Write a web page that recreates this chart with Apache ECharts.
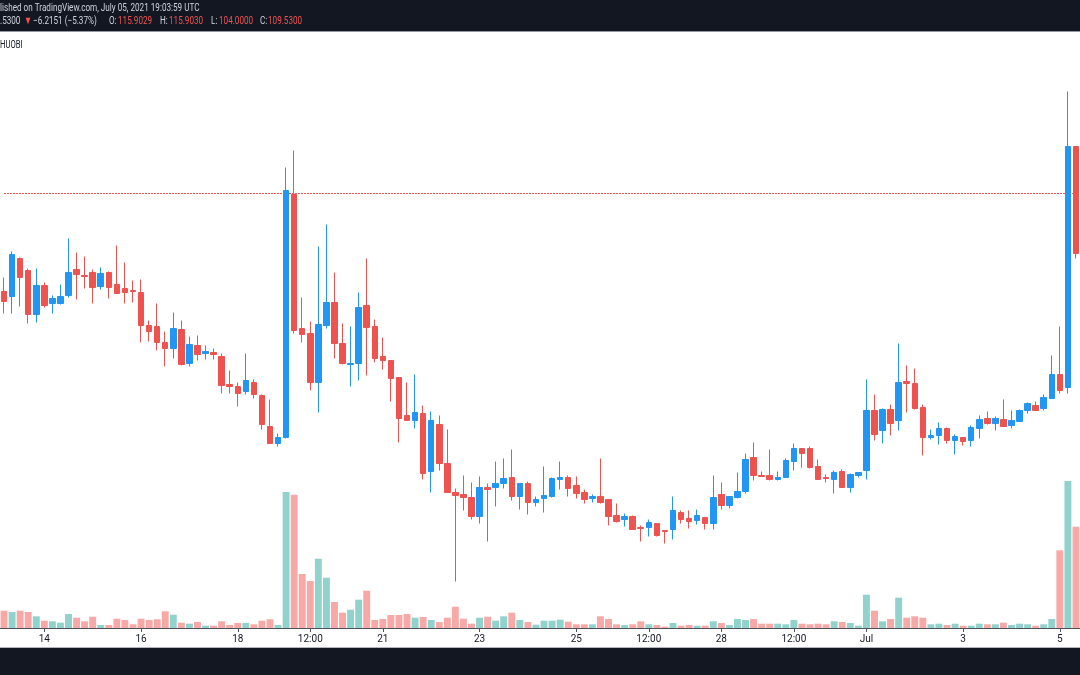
<!DOCTYPE html>
<html><head><meta charset="utf-8">
<script src="https://cdn.jsdelivr.net/npm/echarts@6/dist/echarts.min.js"></script>
<style>html,body{margin:0;padding:0;background:#fff}#c{width:1080px;height:675px}</style>
</head><body><div id="c"></div>
<script>
// 4h candles, QNT / HUOBI style chart, 13 Jun 2021 04:00 -> 5 Jul 2021 08:00
const opens=[99.73,99.23,103.03,101.83,97.43,100.33,98.53,98.53,99.33,101.93,
101.33,101.63,100.23,101.63,100.43,100.03,99.83,99.63,96.33,96.23,
94.63,94.03,95.93,92.53,94.33,93.53,93.63,93.23,90.43,90.23,
89.73,90.63,89.33,86.23,84.53,85.13,109.43,96.03,95.53,90.63,
96.33,98.63,94.53,92.43,92.53,98.33,96.23,93.23,92.83,91.13,
87.33,86.83,87.53,81.73,86.43,82.53,79.63,79.43,79.13,77.23,
80.13,80.13,80.53,81.13,79.23,80.53,78.63,79.03,79.23,80.93,
81.13,80.33,79.63,79.03,79.23,78.93,77.33,76.93,77.23,76.13,
76.13,76.53,75.83,75.93,77.63,77.03,76.83,77.13,76.53,79.43,
78.33,79.13,79.73,83.13,81.33,81.33,80.93,81.13,82.73,84.03,
84.03,82.23,81.13,80.93,81.73,80.13,81.33,81.83,87.83,85.83,
87.93,86.83,90.73,90.53,88.13,85.13,85.33,86.03,84.83,85.13,
84.83,86.03,87.03,86.53,86.93,86.33,86.73,87.83,88.33,88.03,
89.03,91.43,90.13,114.23];
const highs=[101.13,103.73,103.13,102.03,102.03,100.63,99.33,100.43,105.03,103.63,
103.23,101.93,102.13,101.73,104.33,102.63,100.83,100.93,96.83,98.53,
95.73,97.63,96.83,95.23,95.33,94.33,94.03,93.53,91.83,90.63,
93.53,90.93,89.43,88.93,85.53,112.13,113.83,99.13,96.73,104.23,
106.43,101.63,96.53,96.23,99.63,103.03,96.93,95.13,92.83,91.13,
90.63,91.43,88.33,87.73,87.33,85.93,80.03,81.33,80.63,81.23,
80.53,82.73,83.03,83.93,80.53,80.73,79.23,82.23,81.13,82.73,
81.33,81.23,79.93,79.43,83.03,78.93,78.53,77.53,77.33,76.33,
76.93,76.53,75.83,79.23,77.83,77.83,77.93,77.13,81.33,80.63,
79.23,81.63,83.53,84.63,81.73,83.93,81.73,83.03,84.53,84.03,
84.23,82.93,81.43,81.83,81.93,81.53,81.63,90.93,89.43,88.03,
88.43,94.53,92.33,92.03,88.43,85.93,86.63,86.13,85.43,85.13,
86.33,87.33,87.73,87.23,88.93,87.83,87.93,88.63,88.73,89.43,
93.33,96.23,119.73,114.23];
const lows=[97.53,97.53,98.23,96.53,96.63,98.13,97.53,98.43,99.13,98.93,
100.03,98.53,99.93,99.03,99.53,98.53,98.63,94.63,94.73,93.83,
92.23,93.03,92.33,92.23,92.83,92.93,92.93,89.53,89.53,88.23,
89.43,89.03,85.93,84.53,84.23,85.03,95.53,94.63,89.83,87.63,
96.03,93.03,92.43,90.23,90.83,91.33,92.63,91.93,88.73,84.63,
86.83,86.03,80.93,79.63,81.83,79.63,70.73,77.83,76.93,76.53,
74.73,78.23,80.03,78.83,77.93,77.43,78.23,77.63,79.13,79.93,
79.23,79.03,78.53,78.63,78.53,76.33,76.63,76.23,75.93,74.73,
75.23,75.23,74.53,74.93,76.53,76.03,76.43,75.93,75.93,77.93,
78.03,79.03,79.53,80.83,81.23,80.83,80.83,81.13,81.83,82.13,
82.03,80.93,80.63,79.53,80.13,79.63,81.13,80.93,84.83,84.53,
85.33,85.83,87.63,87.93,83.33,84.93,84.43,84.53,83.43,84.33,
84.23,85.03,86.43,85.83,86.23,86.03,86.73,87.53,87.83,87.83,
89.03,89.53,89.53,103.03];
const closes=[98.73,103.43,101.13,97.43,100.33,98.33,99.03,99.23,101.63,101.43,
101.23,100.13,101.53,100.13,99.53,99.63,99.73,96.33,95.73,94.63,
94.03,96.03,92.43,94.43,93.43,93.73,93.43,90.33,90.23,89.53,
90.83,89.43,86.43,84.53,85.13,109.83,95.83,95.43,90.63,96.43,
98.63,94.53,92.53,92.53,98.13,96.13,93.03,92.83,91.03,87.03,
86.83,87.63,81.53,86.83,82.53,79.63,79.33,79.13,77.23,80.13,
79.93,80.53,81.03,79.23,80.53,78.63,78.93,79.33,81.03,81.13,
80.03,79.53,78.93,79.23,78.63,77.23,76.73,77.23,75.93,76.03,
76.63,75.33,75.73,77.83,76.93,76.73,77.33,76.53,79.13,78.33,
79.23,79.73,82.93,81.33,81.23,80.93,81.13,82.83,84.03,83.53,
82.13,80.93,81.03,81.63,80.13,81.43,81.63,87.83,85.43,87.93,
86.53,90.63,90.53,88.03,85.13,85.33,86.03,84.83,85.23,84.73,
86.13,86.93,86.53,87.03,86.23,86.83,87.83,88.53,87.83,89.13,
91.43,89.83,114.23,103.53];
const volumes=[17.3,16,17.3,16,11.7,7.3,6.7,5.3,14,10.3,
6.7,11.3,3,3,9.3,8,3.7,9.3,8,8.7,
16.7,13.3,5.3,4.3,6,2.3,2.3,6.7,3,5,
5,3.7,7.3,8.7,3,136,133.3,54,47,69.3,
50.3,26,15.3,18.3,28.3,37.3,8,9,13,13,
14,10.3,11,8,6,10.3,21.3,9.3,4.3,10.3,
11.3,7.3,11.7,15.3,8,6,3.3,7.3,7.3,8.3,
6.3,3.7,3.7,3.7,11.7,9,3.7,3,3.7,6.7,
3.7,3,1.3,5,2.3,3,2.3,2.3,6.7,5,
3,9,8,9,4.3,4.3,4.3,3.7,8,4.3,
3.7,4.3,3.7,6.7,6,5,2.3,33.3,17.3,6.7,
9,30.3,10.3,11.7,10.3,3.7,4.3,3,4.3,2.3,
2.3,4.3,3.7,3.7,5.3,3,4.3,3.7,2.3,3.7,
9,77.7,147,101.3];
const tickDates=['2021-06-14 00:00','2021-06-16 00:00','2021-06-18 00:00','2021-06-19 12:00','2021-06-21 00:00','2021-06-23 00:00','2021-06-25 00:00','2021-06-26 12:00','2021-06-28 00:00','2021-06-29 12:00','2021-07-01 00:00','2021-07-03 00:00','2021-07-05 00:00'];
const tickTexts=['14','16','18','12:00','21','23','25','12:00','28','12:00','Jul','3','5'];
const lastPrice=109.53;

const UP='#2196f3', DOWN='#ef5350';
const start=Date.UTC(2021,5,13,4,0);
const pad=n=>String(n).padStart(2,'0');
const categories=opens.map((_,i)=>{const d=new Date(start+i*4*3600e3);
  return d.getUTCFullYear()+'-'+pad(d.getUTCMonth()+1)+'-'+pad(d.getUTCDate())+' '+pad(d.getUTCHours())+':'+pad(d.getUTCMinutes());});
const labelOf={}; tickDates.forEach((d,k)=>labelOf[d]=tickTexts[k]);
const showTick=(idx,val)=>labelOf[val]!==undefined;

const candleData=opens.map((o,i)=>[o,closes[i],lows[i],highs[i]]);
const volData=volumes.map((v,i)=>({value:v,itemStyle:{color:closes[i]>=opens[i]?'rgba(38,166,154,0.5)':'rgba(239,83,80,0.5)'}}));
// horizontal last-price line across the visible range
const priceLineData=[[categories[0],lastPrice],[categories[categories.length-1],lastPrice]];

const chart=echarts.init(document.getElementById('c'),null,{renderer:'canvas'});
const hdrFont='11px Roboto';
const sx=0.74;
function t(x,y,text,fill,font,scale){return {type:'text',x:x,y:y,scaleX:scale||sx,z:100,silent:true,
  style:{text:text,fill:fill,font:font||hdrFont,textVerticalAlign:'middle',textAlign:'left'}};}
chart.setOption({
  animation:false,
  backgroundColor:'#ffffff',
  grid:[{left:-1,right:-3,top:32,bottom:47},{left:-1,right:-3,top:32,bottom:47}],
  xAxis:[
    {type:'category',gridIndex:0,data:categories,boundaryGap:true,
     axisLine:{show:true,lineStyle:{color:'#50535e',width:1}},
     axisTick:{show:true,interval:showTick,alignWithLabel:true,length:4,lineStyle:{color:'#50535e'}},
     axisLabel:{show:true,interval:showTick,formatter:v=>labelOf[v]||'',color:'#131722',fontSize:10,fontFamily:'Roboto',margin:6},
     splitLine:{show:false}},
    {type:'category',gridIndex:1,data:categories,boundaryGap:true,show:false}
  ],
  yAxis:[
    {type:'value',gridIndex:0,min:66.08,max:125.68,show:false,splitLine:{show:false}},
    {type:'value',gridIndex:1,min:0,max:596,show:false,splitLine:{show:false}}
  ],
  series:[
    {type:'bar',xAxisIndex:1,yAxisIndex:1,data:volData,barWidth:'86%',silent:true},
    {type:'line',xAxisIndex:0,yAxisIndex:0,data:priceLineData,silent:true,showSymbol:false,symbol:'none',
     color:'#ef5350',lineStyle:{color:'#ef5350',type:[2,1],width:1},z:1},
    {type:'candlestick',xAxisIndex:0,yAxisIndex:0,data:candleData,barWidth:6,silent:true,z:3,
     itemStyle:{color:UP,color0:DOWN,borderColor:UP,borderColor0:DOWN,borderWidth:1}}
  ],
  graphic:[
    {type:'rect',shape:{x:0,y:0,width:1080,height:31},style:{fill:'#131722'},z:90,silent:true},
    {type:'rect',shape:{x:0,y:31,width:1080,height:1},style:{fill:'#9598a1'},z:90,silent:true},
    t(0,8.5,'lished on TradingView.com, July 05, 2021 19:03:59 UTC','#d1d4dc'),
    t(0,21.5,'.5300','#d1d4dc'),
    t(24,21.5,'▼',DOWN),
    t(33,21.5,'−6.2151 (−5.37%)','#d1d4dc'),
    t(109,21.5,'O:','#d1d4dc'),
    t(118,21.5,'115.9029',DOWN),
    t(160,21.5,'H:','#d1d4dc'),
    t(169,21.5,'115.9030',DOWN),
    t(211,21.5,'L:','#d1d4dc'),
    t(219,21.5,'104.0000',DOWN),
    t(260,21.5,'C:','#d1d4dc'),
    t(268,21.5,'109.5300',DOWN),
    t(0,45,'HUOBI','#131722','10px Roboto',0.77),
    {type:'rect',shape:{x:0,y:647,width:1080,height:1},style:{fill:'#b2b5be'},z:90,silent:true},
    {type:'rect',shape:{x:0,y:648,width:1080,height:27},style:{fill:'#131722'},z:90,silent:true}
  ]
});
</script></body></html>
